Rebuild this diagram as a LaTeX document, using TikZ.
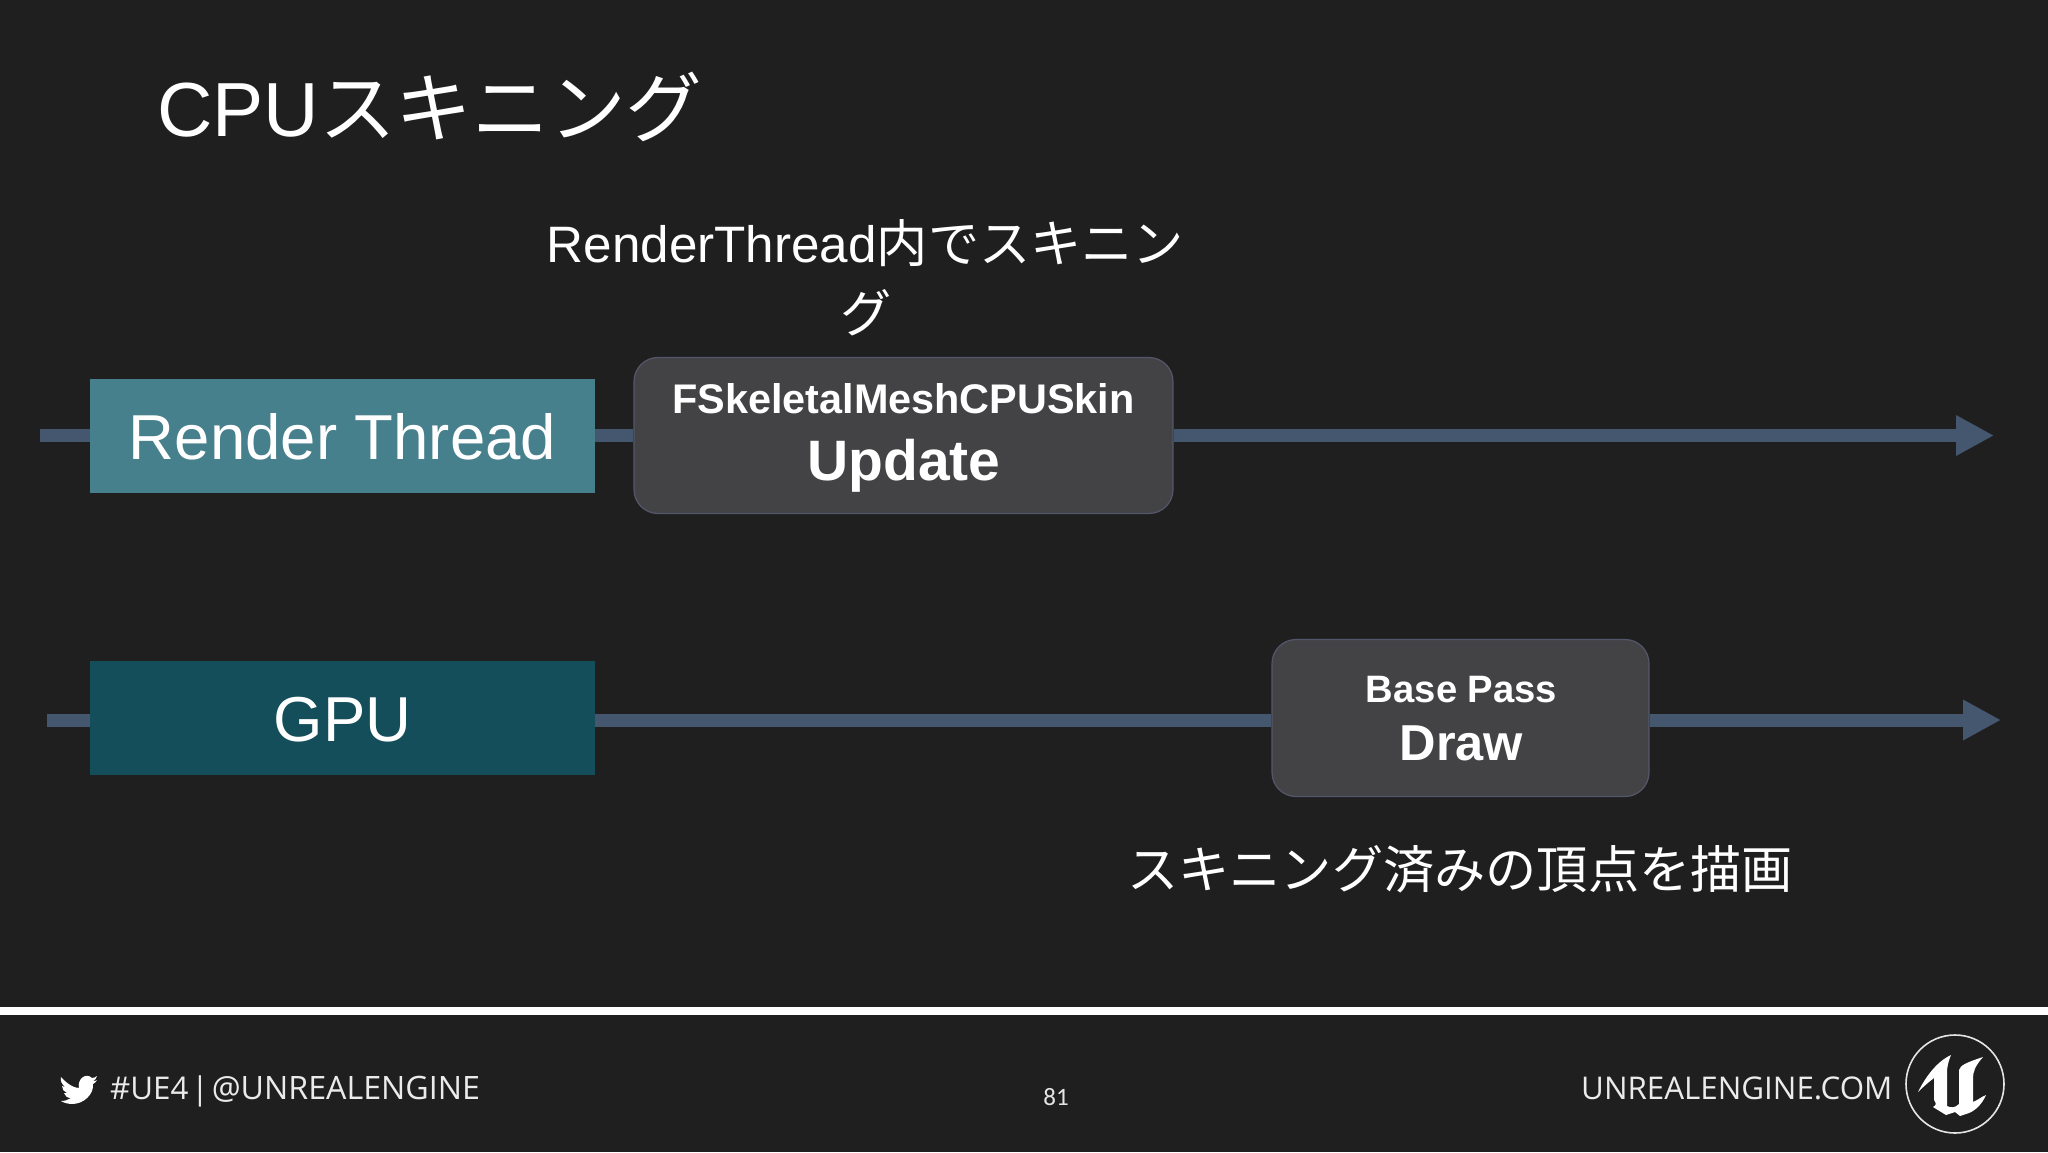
\documentclass[tikz,border=0pt]{standalone}
\usepackage{fontspec}
\setmainfont{Liberation Sans}
\newfontfamily\cjk{Noto Sans CJK JP}
\newfontfamily\din{Open Sans}
\newfontfamily\slidenum{Carlito}
\usetikzlibrary{arrows.meta}
\definecolor{bg}{HTML}{1F1F20}
\definecolor{tl}{HTML}{45566F}
\definecolor{rt}{HTML}{47808D}
\definecolor{gp}{HTML}{154E5B}
\definecolor{bx}{HTML}{434345}
\definecolor{bxe}{HTML}{54576A}
\newcommand{\px}[1]{\fontsize{#1pt}{#1pt}\selectfont}
\tikzset{
  x=1pt,y=-1pt,
  lane/.style={draw=none,fill=#1,text=white,inner sep=0pt,minimum width=505pt,minimum height=114pt},
  task/.style={draw=bxe,line width=1.2pt,fill=bx,rounded corners=24pt,inner sep=0pt},
  tline/.style={draw=tl,line width=13pt},
  tarrow/.style={tline,-{Triangle[length=38pt,width=38pt]}},
  txt/.style={text=white,inner sep=0pt,anchor=base},
  foot/.style={text=white!92!black,inner sep=0pt,anchor=base west,font=\din\px{31.3}},
}
\begin{document}
\begin{tikzpicture}
\useasboundingbox (0,0) rectangle (2048,1152);
\fill[bg] (0,0) rectangle (2048,1152);
\coordinate (s1) at (40,435.5);
\coordinate (e1) at (1994,435.5);
\coordinate (s2) at (47,720);
\coordinate (e2) at (2001,720);
\node[lane=rt] (render) at (342.5,436) {};
\node[lane=gp] (gpu) at (342.5,718) {};
\node[task,minimum width=539pt,minimum height=156pt] (update) at (903.5,435.5) {};
\node[task,minimum width=377pt,minimum height=157pt] (draw) at (1460.5,718) {};
\draw[tline] (s1) -- (render.west |- s1);
\draw[tline] (render.east |- s1) -- (update.west |- s1);
\draw[tarrow] (update.east |- e1) -- (e1);
\draw[tline] (s2) -- (gpu.west |- s2);
\draw[tline] (gpu.east |- s2) -- (draw.west |- s2);
\draw[tarrow] (draw.east |- e2) -- (e2);
\node[txt,font=\px{63.5}] (rtl) at (342.5,459) {Render Thread};
\node[txt,font=\px{63.5}] (gpul) at (342.5,741) {GPU};
\node[txt,font=\bfseries\px{41.4}] (a1) at (903.5,413) {FSkeletalMeshCPUSkin};
\node[txt,font=\bfseries\px{57}] (a2) at (904,480) {Update};
\node[txt,font=\bfseries\px{38.2}] (b1) at (1461.5,702) {Base Pass};
\node[txt,font=\bfseries\px{50.5}] (b2) at (1461.5,760) {Draw};
\node[txt,anchor=base west,font=\px{76.7}] (title) at (157,136) {CPU{\cjk スキニング}};
\node[txt,font=\px{51.2}] (c1) at (865.5,262) {RenderThread{\cjk 内でスキニン}};
\node[txt,font=\px{51.2}\cjk] (c2) at (866,332) {グ};
\node[txt,font=\px{51.2}\cjk] (d1) at (1460,888) {スキニング済みの頂点を描画};
\fill[white] (0,1007) rectangle (2048,1015);
\node[foot] (f1) at (110,1099) {\#UE4\hspace{3pt}|\hspace{3pt}{\px{32.2}@UNREALENGINE}};
\node[foot] (f2) at (1581,1099) {UNREALENGINE.COM};
\node[txt,text=white!90!black,font=\slidenum\px{25}] (num) at (1056,1105) {81};
\fill[white] (61,1077) .. controls (68,1085) and (75,1088) .. (79,1088)
  .. controls (77,1079) and (86,1072) .. (92,1078) .. controls (94,1078) and (96,1077) .. (97,1076)
  .. controls (96,1079) and (95,1080) .. (93,1081) .. controls (95,1081) and (96,1081) .. (97,1080)
  .. controls (96,1082) and (95,1083) .. (93,1084) .. controls (94,1094) and (84,1104) .. (72,1104)
  .. controls (69,1104) and (64,1103) .. (61,1101) .. controls (65,1101) and (68,1100) .. (71,1098)
  .. controls (67,1098) and (65,1096) .. (64,1093) .. controls (65,1093) and (66,1093) .. (67,1093)
  .. controls (64,1092) and (62,1089) .. (62,1086) .. controls (63,1087) and (64,1087) .. (65,1087)
  .. controls (62,1084) and (60,1081) .. (61,1077) -- cycle;
\draw[white!90!black,line width=1.6pt] (1955,1084) circle (49);
\fill[white] (1918,1092) .. controls (1925,1078) and (1936,1062) .. (1951,1055)
  .. controls (1948,1062) and (1947,1068) .. (1947,1072) -- (1947,1106)
  .. controls (1951,1108) and (1955,1108) .. (1959,1104) -- (1959,1070)
  .. controls (1960,1065) and (1968,1062) .. (1983,1057)
  .. controls (1975,1066) and (1973,1072) .. (1973,1078) -- (1973,1102)
  .. controls (1978,1100) and (1981,1097) .. (1986,1095)
  .. controls (1982,1104) and (1976,1110) .. (1969,1113) -- (1960,1116) -- (1955,1112)
  -- (1946,1115) -- (1933,1107) .. controls (1937,1105) and (1936,1103) .. (1934,1100)
  -- (1934,1078) .. controls (1930,1081) and (1924,1086) .. (1918,1092) -- cycle;
\end{tikzpicture}
\end{document}
